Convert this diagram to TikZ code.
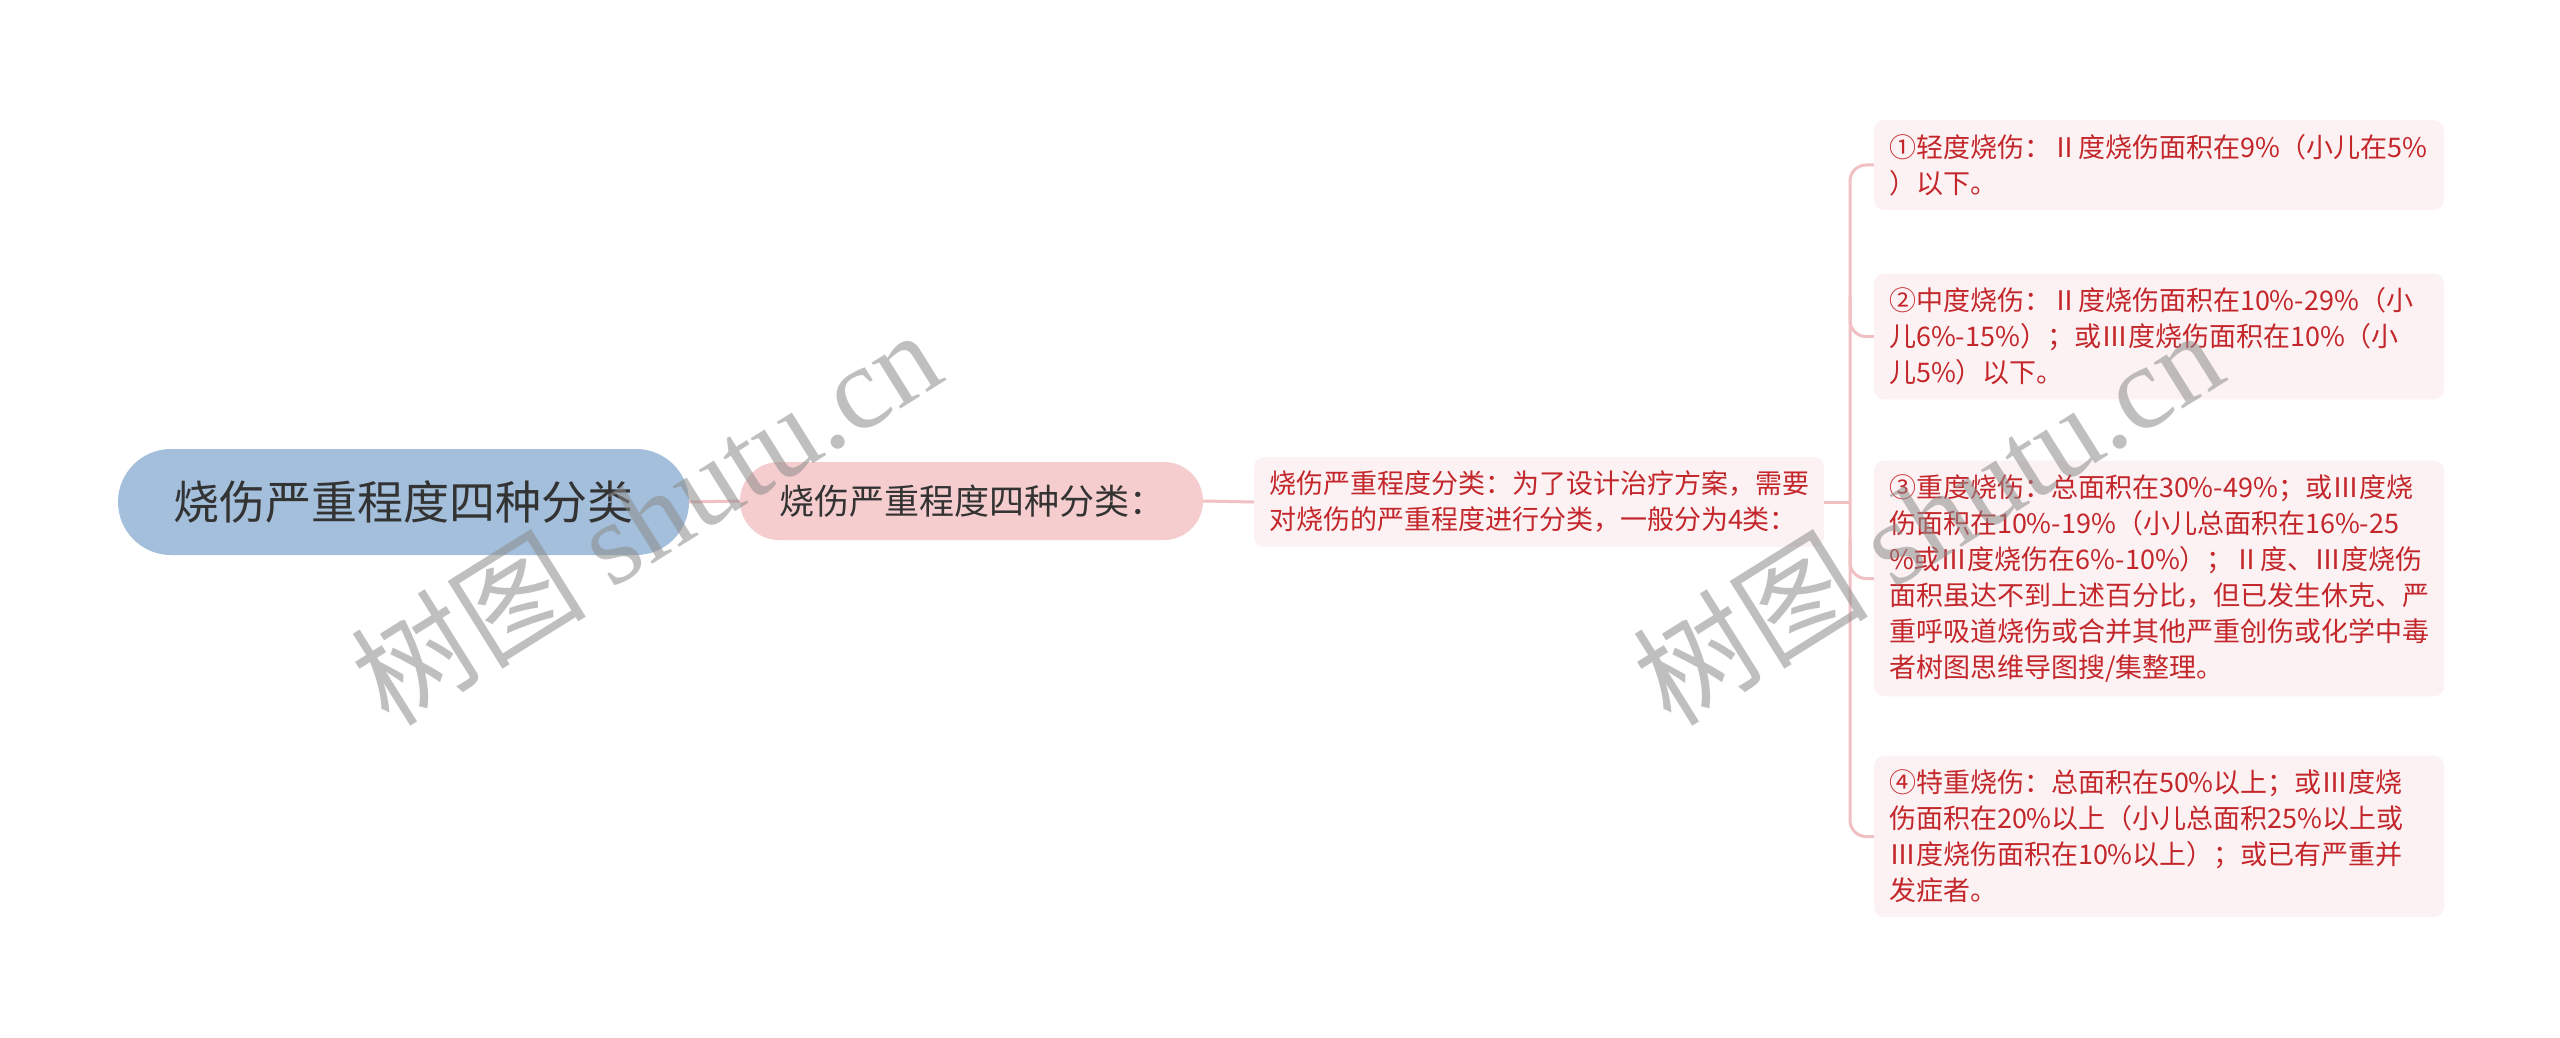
\documentclass[tikz,border=0pt]{standalone}
\usepackage{fontspec}
\setmainfont{Noto Sans CJK SC}
\newfontfamily\wmlatin{Liberation Serif}
\usetikzlibrary{calc}
\definecolor{rootfill}{HTML}{A3BFDB}
\definecolor{secfill}{HTML}{F5CDCF}
\definecolor{leaffill}{HTML}{FDF2F3}
\definecolor{leaftext}{HTML}{C3272B}
\definecolor{darktext}{HTML}{333333}
\definecolor{connpink}{HTML}{F0C0C3}
\tikzset{
  rootbox/.style={fill=rootfill, rounded corners=53pt, minimum width=571pt, minimum height=106pt, inner sep=0pt,
    text=darktext, font=\fontsize{46}{52}\selectfont},
  secbox/.style={fill=secfill, rounded corners=39pt, minimum width=463pt, minimum height=78pt, inner sep=0pt,
    text=darktext, font=\fontsize{35}{42}\selectfont},
  leafbox/.style={fill=leaffill, rounded corners=10pt, text width=540pt, align=left, inner xsep=15pt, inner ysep=14pt,
    text=leaftext, font=\fontsize{27}{36}\selectfont},
  conn/.style={draw=connpink, line width=3pt},
  wm/.style={text=black!45, opacity=0.55, rotate=32, font=\fontsize{118}{124}\selectfont}
}
\begin{document}
\begin{tikzpicture}[x=1pt,y=-1pt]
\useasboundingbox (0,0) rectangle (2560,1038);
\fill[white] (0,0) rectangle (2560,1038);

\node[rootbox] (root) at (403.5,502) {烧伤严重程度四种分类};
\node[secbox] (sec) at (971.5,501) {烧伤严重程度四种分类：};
\node[leafbox] (mid) at (1539,502) {烧伤严重程度分类：为了设计治疗方案，需要\\对烧伤的严重程度进行分类，一般分为4类：};

\node[leafbox] (l1) at (2159,165) {①轻度烧伤：Ⅱ度烧伤面积在9\%（小儿在5\%\\）以下。};
\node[leafbox] (l2) at (2159,336.5) {②中度烧伤：Ⅱ度烧伤面积在10\%-29\%（小\\儿6\%-15\%）；或Ⅲ度烧伤面积在10\%（小\\儿5\%）以下。};
\node[leafbox] (l3) at (2159,578.5) {③重度烧伤：总面积在30\%-49\%；或Ⅲ度烧\\伤面积在10\%-19\%（小儿总面积在16\%-25\\\%或Ⅲ度烧伤在6\%-10\%）；Ⅱ度、Ⅲ度烧伤\\面积虽达不到上述百分比，但已发生休克、严\\重呼吸道烧伤或合并其他严重创伤或化学中毒\\者树图思维导图搜/集整理。};
\node[leafbox] (l4) at (2159,836.5) {④特重烧伤：总面积在50\%以上；或Ⅲ度烧\\伤面积在20\%以上（小儿总面积25\%以上或\\Ⅲ度烧伤面积在10\%以上）；或已有严重并\\发症者。};

\coordinate (bx) at (1850,502);
\draw[conn] (root.east) -- (sec.west);
\draw[conn] (sec.east) -- (mid.west);
\draw[conn] (mid.east) -- (bx);
\draw[conn, rounded corners=16pt] (l1.west) -- (l1.west -| bx) -- (l4.west -| bx) -- (l4.west);
\draw[conn, rounded corners=16pt] (l2.west -| bx) ++(0,-40) -- (l2.west -| bx) -- (l2.west);
\draw[conn, rounded corners=16pt] (l3.west -| bx) ++(0,-40) -- (l3.west -| bx) -- (l3.west);

\node[wm] (wm1) at (645,516) {树图 {\wmlatin shutu.cn}};
\node[wm] (wm2) at (1927,516) {树图 {\wmlatin shutu.cn}};
\end{tikzpicture}
\end{document}
